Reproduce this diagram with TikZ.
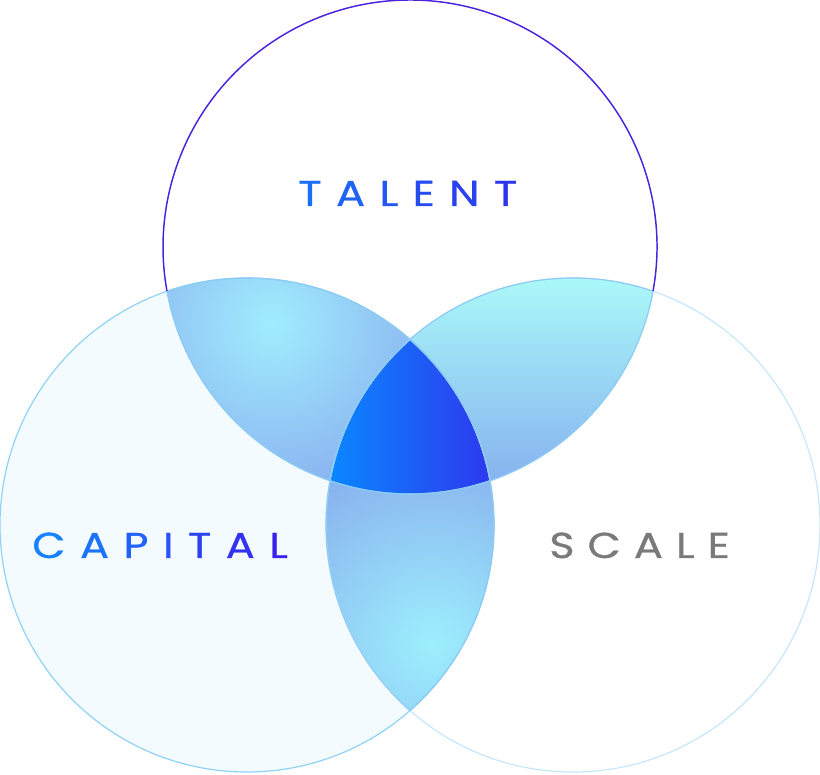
\documentclass[tikz,border=0pt]{standalone}
\usepackage{fontspec}
\setmainfont{Poppins}
\newfontfamily\vennfont[FakeStretch=1.2,FakeBold=0.8,LetterSpace=36]{Poppins}
\usepackage{tikz}
\usetikzlibrary{positioning}

\definecolor{lefttint}{HTML}{F4FBFF}
\definecolor{leftedge}{HTML}{90D2F6}
\definecolor{rightedge}{HTML}{C6E7FA}
\definecolor{topedge}{HTML}{4B22DE}
\definecolor{lensedge}{HTML}{8CCBF4}
\definecolor{tlA}{HTML}{A0EDFD}
\definecolor{tlB}{HTML}{86A8EE}
\definecolor{trA}{HTML}{ABFAF9}
\definecolor{trB}{HTML}{84AEEE}
\definecolor{btA}{HTML}{9DEFFD}
\definecolor{btB}{HTML}{86ABEC}
\definecolor{midA}{HTML}{0A88FF}
\definecolor{midB}{HTML}{2E38EE}
\definecolor{tA}{HTML}{1B6EF7}
\definecolor{tB}{HTML}{2D35EC}
\definecolor{cA}{HTML}{1782FF}
\definecolor{cB}{HTML}{3A22EE}
\definecolor{scalegray}{HTML}{7A7A7A}

\newcommand\R{185.25pt}
\newcommand\gap{\kern0.40em}

\tikzset{
  leftring/.style={draw=leftedge, line width=0.9pt},
  rightring/.style={draw=rightedge, line width=0.9pt},
  topring/.style={draw=topedge, line width=1.1pt},
  lensline/.style={draw=lensedge, line width=0.9pt},
  lbl/.style={inner sep=0pt, anchor=base west,
    font=\vennfont\fontsize{27}{27}\selectfont},
}

\begin{document}
\begin{tikzpicture}[x=0.75pt,y=0.75pt]
		\useasboundingbox (0,0) rectangle (820,774);
		\coordinate (t) at (410,527);
		\coordinate (l) at (247,249);
		\coordinate (r) at (573,249);
		% circles
		\fill[lefttint] (l) circle (\R);
		% lenses
		\begin{scope}
			\clip (t) circle (\R);
			\clip (l) circle (\R);
			\fill[tlB] (t) circle (\R);
			\shade[inner color=tlA, outer color=tlB] (272,450) circle (150pt);
		\end{scope}
		\begin{scope}
			\clip (t) circle (\R);
			\clip (r) circle (\R);
			\shade[top color=trA, bottom color=trB] (405,280) rectangle (665,500);
		\end{scope}
		\begin{scope}
			\clip (l) circle (\R);
			\clip (r) circle (\R);
			\fill[btB] (l) circle (\R);
			\shade[inner color=btA, outer color=btB] (432,130) circle (160pt);
		\end{scope}
		\begin{scope}
			\clip (t) circle (\R);
			\clip (l) circle (\R);
			\clip (r) circle (\R);
			\shade[left color=midA, right color=midB] (328,278) rectangle (492,440);
		\end{scope}
		% outlines
		\draw[leftring] (l) circle (\R);
		\draw[rightring] (r) circle (\R);
		\begin{scope}
			\clip (t) circle (\R);
			\draw[lensline] (l) circle (\R) (r) circle (\R);
		\end{scope}
		\begin{scope}
			\clip (l) circle (\R);
			\draw[lensline] (t) circle (\R) (r) circle (\R);
		\end{scope}
		\begin{scope}
			\clip (r) circle (\R);
			\draw[lensline] (t) circle (\R) (l) circle (\R);
		\end{scope}
		\draw[topring] (t) ++(-10.26:\R) arc[start angle=-10.26, end angle=190.26, radius=\R];
		% labels
		\node[lbl] (talent) at (298,568) {\textcolor{tA}{T}\gap\textcolor{tA!80!tB}{A}\gap\textcolor{tA!60!tB}{L}\gap\textcolor{tA!40!tB}{E}\gap\textcolor{tA!20!tB}{N}\gap\textcolor{tB}{T}};
		\node[lbl] (capital) at (32,216) {\textcolor{cA}{C}\gap\textcolor{cA!83!cB}{A}\gap\textcolor{cA!67!cB}{P}\gap\textcolor{cA!50!cB}{I}\gap\textcolor{cA!33!cB}{T}\gap\textcolor{cA!17!cB}{A}\gap\textcolor{cB}{L}};
		\node[lbl, text=scalegray] (scale) at (549,216) {SCALE};
	\end{tikzpicture}
\end{document}
